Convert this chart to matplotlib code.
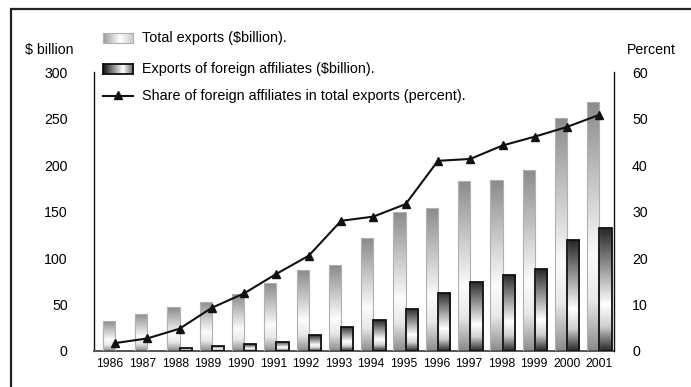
import matplotlib
matplotlib.use("Agg")
import matplotlib.pyplot as plt
import numpy as np
from matplotlib.colors import LinearSegmentedColormap
from matplotlib.patches import Rectangle
from matplotlib.lines import Line2D

plt.rcParams['font.family'] = ['Liberation Sans', 'DejaVu Sans']

years = ['1986', '1987', '1988', '1989', '1990', '1991', '1992', '1993',
         '1994', '1995', '1996', '1997', '1998', '1999', '2000', '2001']
total_exports = [32, 40, 47, 53, 61, 73, 87, 92, 121, 150, 154, 183, 184, 195, 251, 268]
affiliate_exports = [0, 0, 3, 5.5, 7.5, 10, 17, 26, 33, 45.5, 62.5, 74.5, 82, 88, 119, 132]
share_percent = [1.7, 2.7, 4.8, 9.3, 12.4, 16.6, 20.5, 28.0, 28.9, 31.6, 40.9, 41.3, 44.2, 46.1, 48.2, 50.8]

left_ticks = [0, 50, 100, 150, 200, 250, 300]
right_ticks = [0, 10, 20, 30, 40, 50, 60]

W, H = 691, 387
fig = plt.figure(figsize=(W / 100, H / 100), dpi=100)
fig.patch.set_facecolor('white')

# outer frame (cut off at right and bottom as in reference)
fig.add_artist(Rectangle((11 / W, -0.1), 1.2, 1.1 - 9 / H, transform=fig.transFigure,
                         fill=False, edgecolor='#222222', linewidth=1.6, clip_on=False))

ax = fig.add_axes([94 / W, (H - 351) / H, (614 - 94) / W, (351 - 72) / H])
ax.set_facecolor('none')
x = np.arange(len(years))
bw = 0.38

cmap_total = LinearSegmentedColormap.from_list(
    'tot', [(0, '#8a8a8a'), (0.62, '#fcfcfc'), (0.8, '#e8e8e8'), (1, '#8a8a8a')])
cmap_aff = LinearSegmentedColormap.from_list(
    'aff', [(0, '#262626'), (0.62, '#ffffff'), (0.8, '#d0d0d0'), (1, '#262626')])

bars_t = ax.bar(x - bw / 2, total_exports, width=bw, facecolor='none',
                edgecolor='#b0b0b0', linewidth=0.8, zorder=3)
bars_a = ax.bar(x + bw / 2, affiliate_exports, width=bw, facecolor='none',
                edgecolor='#111111', linewidth=1.3, zorder=3)

grad = np.linspace(0, 1, 256).reshape(-1, 1)
for bars, cm in ((bars_t, cmap_total), (bars_a, cmap_aff)):
    for b in bars:
        h = b.get_height()
        if h <= 0:
            b.set_visible(False)
            continue
        x0 = b.get_x()
        im = ax.imshow(grad, cmap=cm, extent=[x0, x0 + b.get_width(), 0, h],
                       origin='upper', aspect='auto', zorder=2, interpolation='bilinear')
        im.set_clip_path(b)

ax.set_xlim(-0.65, 15.45)
ax.set_ylim(0, 300)
ax.set_yticks(left_ticks)
ax.set_yticklabels([str(t) for t in left_ticks], fontsize=10.2)
tick_pos = [i - 0.15 + 0.01 * i for i in range(len(years))]
ax.set_xticks(tick_pos)
ax.set_xticklabels(years, fontsize=8.7)
ax.tick_params(axis='both', length=0)
ax.tick_params(axis='y', pad=19)
ax.tick_params(axis='x', pad=5)
for s in ('top', 'right'):
    ax.spines[s].set_visible(False)
ax.spines['left'].set_color('#111111')
ax.spines['left'].set_linewidth(1.0)
ax.spines['bottom'].set_color('#555555')
ax.spines['bottom'].set_linewidth(1.4)

ax2 = ax.twinx()
ax2.plot(x, share_percent, color='#111111', linewidth=1.5, marker='^',
         markersize=6, zorder=5)
ax2.set_ylim(0, 60)
ax2.set_yticks(right_ticks)
ax2.set_yticklabels([str(t) for t in right_ticks], fontsize=10.2)
ax2.tick_params(axis='y', length=0, pad=13)
for s in ('top', 'left', 'bottom'):
    ax2.spines[s].set_visible(False)
ax2.spines['right'].set_color('#111111')
ax2.spines['right'].set_linewidth(1.0)

fig.text(25 / W, 1 - 50 / H, '$ billion', fontsize=10.2, va='center', ha='left')
fig.text(627 / W, 1 - 50 / H, 'Percent', fontsize=10.2, va='center', ha='left')

# legend
hgrad = np.linspace(0, 1, 256).reshape(1, -1)
cmap_lt = LinearSegmentedColormap.from_list(
    'lt', [(0, '#999999'), (0.55, '#ffffff'), (1, '#c8c8c8')])
cmap_la = LinearSegmentedColormap.from_list(
    'la', [(0, '#111111'), (0.65, '#ffffff'), (1, '#555555')])
for (yc, cm, ec, lw) in ((38, cmap_lt, '#b0b0b0', 0.8), (69, cmap_la, '#111111', 1.3)):
    sw = fig.add_axes([103 / W, 1 - (yc + 5) / H, 30 / W, 10 / H])
    sw.imshow(hgrad, cmap=cm, aspect='auto', interpolation='bilinear')
    sw.set_xticks([]); sw.set_yticks([])
    for s in sw.spines.values():
        s.set_color(ec); s.set_linewidth(lw)

fig.add_artist(Line2D([103 / W, 133 / W], [1 - 95.5 / H, 1 - 95.5 / H],
                      transform=fig.transFigure, color='#111111', linewidth=1.5))
fig.add_artist(Line2D([118 / W], [1 - 95 / H], transform=fig.transFigure,
                      color='#111111', marker='^', markersize=6, linestyle='none'))

fig.text(142 / W, 1 - 38 / H, 'Total exports ($billion).', fontsize=10.4, va='center')
fig.text(142 / W, 1 - 69 / H, 'Exports of foreign affiliates ($billion).', fontsize=10.4, va='center')
fig.text(142 / W, 1 - 96 / H, 'Share of foreign affiliates in total exports (percent).',
         fontsize=10.4, va='center')

fig.savefig('out.png', dpi=100)
